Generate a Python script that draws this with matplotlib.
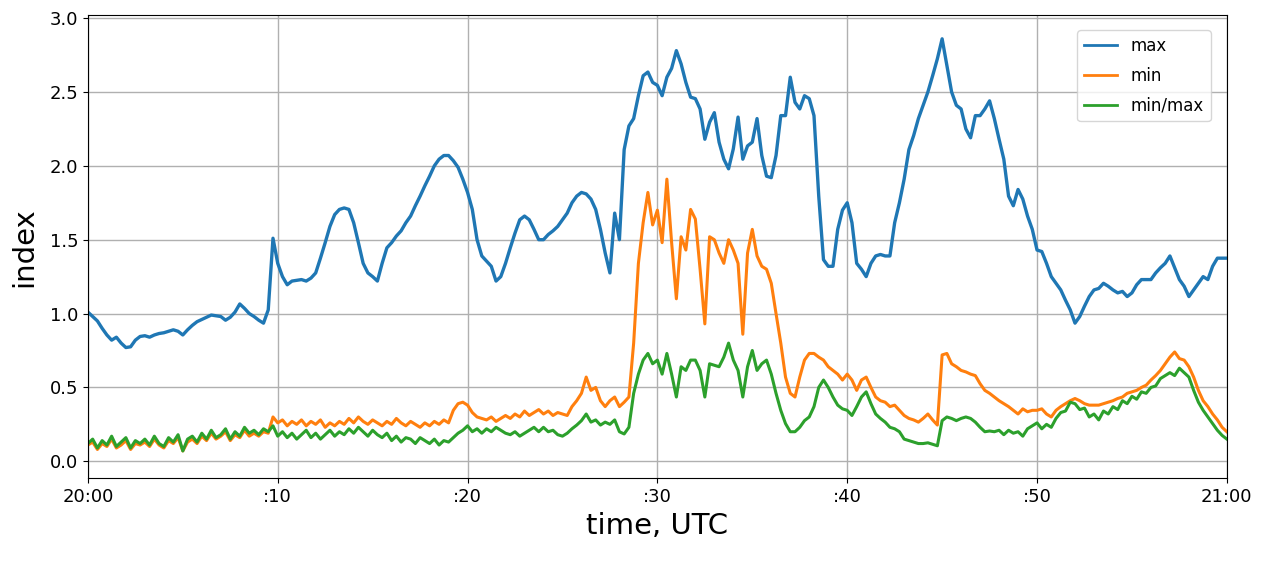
import numpy as np
import matplotlib
matplotlib.use("Agg")
import matplotlib.pyplot as plt

# %%
## Readings every 15 s from 20:00 to 21:00 UTC
STEP_MIN = 0.25

max_idx = [
    1.01, 0.98, 0.95, 0.90, 0.855, 0.82, 0.84, 0.80, 0.77, 0.775, 0.82, 0.845,
    0.85, 0.84, 0.855, 0.865, 0.87, 0.88, 0.89, 0.88, 0.855, 0.89, 0.92, 0.945,
    0.96, 0.975, 0.99, 0.985, 0.98, 0.955, 0.975, 1.01, 1.065, 1.035, 1.00, 0.98,
    0.955, 0.935, 1.025, 1.51, 1.34, 1.25, 1.195, 1.22, 1.225, 1.23, 1.22, 1.24,
    1.275, 1.375, 1.48, 1.59, 1.67, 1.705, 1.715, 1.705, 1.615, 1.48, 1.34, 1.275,
    1.25, 1.22, 1.34, 1.445, 1.48, 1.525, 1.56, 1.615, 1.66, 1.73, 1.795, 1.865,
    1.93, 2.0, 2.045, 2.07, 2.07, 2.035, 1.99, 1.91, 1.82, 1.705, 1.50, 1.39,
    1.355, 1.32, 1.22, 1.25, 1.34, 1.445, 1.545, 1.635, 1.66, 1.635, 1.57, 1.50,
    1.50, 1.535, 1.56, 1.59, 1.635, 1.68, 1.75, 1.795, 1.82, 1.81, 1.775, 1.705,
    1.57, 1.41, 1.275, 1.68, 1.50, 2.11, 2.27, 2.32, 2.475, 2.61, 2.635, 2.565,
    2.545, 2.475, 2.60, 2.66, 2.78, 2.69, 2.565, 2.465, 2.455, 2.385, 2.18, 2.295,
    2.36, 2.16, 2.045, 1.98, 2.115, 2.33, 2.045, 2.135, 2.16, 2.32, 2.07, 1.93,
    1.92, 2.07, 2.34, 2.34, 2.60, 2.43, 2.385, 2.475, 2.455, 2.34, 1.795, 1.365,
    1.32, 1.32, 1.57, 1.70, 1.75, 1.615, 1.34, 1.30, 1.25, 1.34, 1.39, 1.40,
    1.39, 1.39, 1.615, 1.75, 1.91, 2.11, 2.205, 2.32, 2.41, 2.50, 2.61, 2.725,
    2.86, 2.68, 2.50, 2.41, 2.385, 2.25, 2.19, 2.34, 2.34, 2.385, 2.44, 2.32,
    2.18, 2.045, 1.795, 1.73, 1.84, 1.775, 1.66, 1.57, 1.43, 1.42, 1.34, 1.25,
    1.205, 1.16, 1.09, 1.025, 0.935, 0.98, 1.05, 1.115, 1.16, 1.17, 1.205, 1.185,
    1.16, 1.14, 1.15, 1.115, 1.14, 1.195, 1.23, 1.23, 1.23, 1.275, 1.31, 1.34,
    1.39, 1.31, 1.23, 1.185, 1.115, 1.16, 1.205, 1.25, 1.23, 1.32, 1.375, 1.375,
    1.375,
]

min_idx = [
    0.11, 0.13, 0.08, 0.12, 0.10, 0.15, 0.09, 0.11, 0.14, 0.08, 0.12, 0.11,
    0.13, 0.10, 0.15, 0.11, 0.09, 0.14, 0.12, 0.16, 0.07, 0.13, 0.15, 0.12,
    0.17, 0.14, 0.19, 0.15, 0.17, 0.20, 0.14, 0.18, 0.16, 0.21, 0.17, 0.19,
    0.17, 0.20, 0.19, 0.30, 0.26, 0.28, 0.24, 0.27, 0.25, 0.28, 0.24, 0.27,
    0.25, 0.28, 0.23, 0.26, 0.24, 0.27, 0.25, 0.29, 0.26, 0.30, 0.27, 0.25,
    0.28, 0.26, 0.24, 0.27, 0.25, 0.29, 0.26, 0.24, 0.27, 0.25, 0.23, 0.26,
    0.24, 0.27, 0.25, 0.28, 0.26, 0.345, 0.39, 0.40, 0.38, 0.33, 0.30, 0.29,
    0.28, 0.30, 0.27, 0.29, 0.31, 0.29, 0.32, 0.30, 0.34, 0.31, 0.33, 0.35,
    0.32, 0.34, 0.31, 0.33, 0.32, 0.31, 0.37, 0.41, 0.46, 0.57, 0.48, 0.50,
    0.41, 0.37, 0.41, 0.435, 0.37, 0.40, 0.435, 0.80, 1.34, 1.615, 1.82, 1.60,
    1.70, 1.48, 1.91, 1.48, 1.10, 1.52, 1.43, 1.705, 1.64, 1.30, 0.93, 1.52,
    1.50, 1.41, 1.34, 1.50, 1.43, 1.34, 0.86, 1.41, 1.57, 1.39, 1.32, 1.30,
    1.205, 1.00, 0.80, 0.57, 0.46, 0.435, 0.57, 0.685, 0.73, 0.73, 0.705, 0.685,
    0.64, 0.615, 0.59, 0.55, 0.59, 0.55, 0.48, 0.55, 0.57, 0.50, 0.435, 0.41,
    0.40, 0.37, 0.38, 0.345, 0.31, 0.29, 0.28, 0.265, 0.29, 0.32, 0.28, 0.245,
    0.72, 0.73, 0.66, 0.64, 0.615, 0.605, 0.59, 0.58, 0.525, 0.48, 0.46, 0.435,
    0.41, 0.39, 0.37, 0.345, 0.32, 0.355, 0.335, 0.345, 0.345, 0.355, 0.32, 0.30,
    0.345, 0.37, 0.39, 0.41, 0.425, 0.41, 0.39, 0.38, 0.38, 0.38, 0.39, 0.40,
    0.41, 0.425, 0.435, 0.46, 0.47, 0.48, 0.50, 0.515, 0.55, 0.58, 0.615, 0.66,
    0.705, 0.74, 0.695, 0.685, 0.64, 0.57, 0.48, 0.41, 0.37, 0.32, 0.28, 0.23,
    0.20,
]

ratio_idx = [
    0.12, 0.15, 0.09, 0.14, 0.11, 0.17, 0.10, 0.13, 0.16, 0.09, 0.14, 0.12,
    0.15, 0.11, 0.17, 0.12, 0.10, 0.16, 0.13, 0.18, 0.07, 0.15, 0.17, 0.13,
    0.19, 0.15, 0.21, 0.16, 0.18, 0.22, 0.15, 0.20, 0.17, 0.23, 0.19, 0.21,
    0.18, 0.22, 0.20, 0.24, 0.17, 0.20, 0.16, 0.19, 0.15, 0.18, 0.21, 0.16,
    0.19, 0.15, 0.18, 0.21, 0.17, 0.20, 0.18, 0.22, 0.19, 0.23, 0.20, 0.17,
    0.21, 0.18, 0.16, 0.19, 0.14, 0.17, 0.13, 0.16, 0.15, 0.12, 0.16, 0.14,
    0.12, 0.15, 0.11, 0.14, 0.13, 0.16, 0.19, 0.21, 0.24, 0.20, 0.22, 0.19,
    0.22, 0.20, 0.23, 0.21, 0.19, 0.18, 0.20, 0.17, 0.19, 0.21, 0.23, 0.20,
    0.23, 0.20, 0.21, 0.18, 0.17, 0.19, 0.22, 0.245, 0.275, 0.32, 0.265, 0.28,
    0.245, 0.265, 0.25, 0.28, 0.20, 0.185, 0.23, 0.46, 0.59, 0.685, 0.73, 0.66,
    0.685, 0.59, 0.73, 0.59, 0.435, 0.64, 0.615, 0.685, 0.685, 0.615, 0.435, 0.66,
    0.65, 0.64, 0.705, 0.80, 0.685, 0.615, 0.435, 0.64, 0.75, 0.615, 0.66, 0.685,
    0.59, 0.46, 0.345, 0.255, 0.20, 0.20, 0.23, 0.275, 0.30, 0.37, 0.50, 0.55,
    0.50, 0.435, 0.38, 0.355, 0.345, 0.31, 0.37, 0.435, 0.47, 0.39, 0.32, 0.29,
    0.265, 0.23, 0.22, 0.20, 0.15, 0.14, 0.13, 0.12, 0.12, 0.125, 0.115, 0.105,
    0.275, 0.30, 0.29, 0.275, 0.29, 0.30, 0.29, 0.265, 0.23, 0.20, 0.205, 0.20,
    0.21, 0.18, 0.21, 0.19, 0.20, 0.17, 0.22, 0.24, 0.26, 0.22, 0.25, 0.23,
    0.29, 0.33, 0.34, 0.40, 0.39, 0.35, 0.36, 0.30, 0.32, 0.28, 0.34, 0.32,
    0.37, 0.35, 0.41, 0.39, 0.44, 0.42, 0.47, 0.46, 0.50, 0.51, 0.56, 0.58,
    0.60, 0.58, 0.63, 0.60, 0.57, 0.48, 0.40, 0.345, 0.30, 0.255, 0.21, 0.175,
    0.15,
]

tick_minutes = [0, 10, 20, 30, 40, 50, 60]
tick_labels = ["20:00", ":10", ":20", ":30", ":40", ":50", "21:00"]

# %%
minutes = np.arange(len(max_idx)) * STEP_MIN

fig = plt.figure(figsize=(12.74, 5.62), dpi=100)
ax = fig.add_axes([0.069, 0.149, 0.894, 0.824])

ax.plot(minutes, max_idx, color="tab:blue", lw=2.4, label="max")
ax.plot(minutes, min_idx, color="tab:orange", lw=2.2, label="min")
ax.plot(minutes, ratio_idx, color="tab:green", lw=2.2, label="min/max")

ax.set_xlim(0, 60)
ax.set_ylim(-0.115, 3.02)
ax.set_xticks(tick_minutes)
ax.set_xticklabels(tick_labels)
ax.set_yticks(np.arange(0, 3.01, 0.5))
ax.tick_params(labelsize=13)
ax.grid(True, color="#b0b0b0", lw=1)

ax.set_xlabel("time, UTC", fontsize=21)
ax.set_ylabel("index", fontsize=21, labelpad=8)

leg = ax.legend(loc="upper right", fontsize=12, labelspacing=0.7,
                bbox_to_anchor=(0.993, 0.985))
for line in leg.get_lines():
    line.set_linewidth(2.0)

fig.savefig("out.png", dpi=100)
